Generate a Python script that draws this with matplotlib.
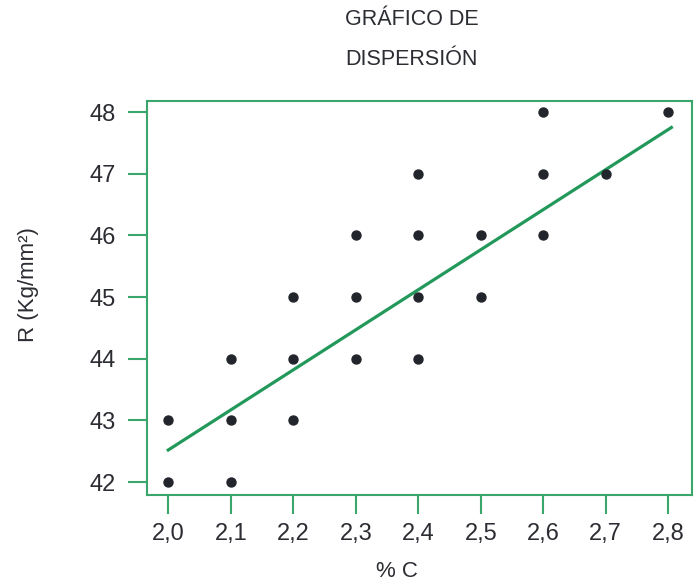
import numpy as np
import matplotlib.pyplot as plt

plt.rcParams['font.family'] = ['Liberation Sans', 'DejaVu Sans']

# Contenido de carbono (%) y resistencia (Kg/mm²) de cada muestra
carbono = [2.0, 2.0,
           2.1, 2.1, 2.1,
           2.2, 2.2, 2.2,
           2.3, 2.3, 2.3,
           2.4, 2.4, 2.4, 2.4,
           2.5, 2.5,
           2.6, 2.6, 2.6,
           2.7,
           2.8]
resistencia = [42, 43,
               42, 43, 44,
               43, 44, 45,
               44, 45, 46,
               44, 45, 46, 47,
               45, 46,
               46, 47, 48,
               47,
               48]

# Recta de tendencia
recta_x = [2.0, 2.805]
recta_y = [42.52, 47.75]

xticks = [2.0, 2.1, 2.2, 2.3, 2.4, 2.5, 2.6, 2.7, 2.8]
xtick_labels = ['2,0', '2,1', '2,2', '2,3', '2,4', '2,5', '2,6', '2,7', '2,8']
yticks = [42, 43, 44, 45, 46, 47, 48]

verde_marco = '#3aa66c'
verde_recta = '#22995a'
texto = '#2b2d33'

fig = plt.figure(figsize=(6.96, 5.85), dpi=100)
ax = fig.add_axes([0.2112, 0.1538, 0.7831, 0.6736])

ax.scatter(carbono, resistencia, s=42, color='#22252c', zorder=3)
ax.plot(recta_x, recta_y, color=verde_recta, linewidth=2.3, zorder=2)

ax.set_xlim(1.966, 2.838)
ax.set_ylim(41.79, 48.18)
ax.set_xticks(xticks)
ax.set_xticklabels(xtick_labels)
ax.set_yticks(yticks)

for lado in ax.spines.values():
    lado.set_color(verde_marco)
    lado.set_linewidth(1.5)

ax.tick_params(axis='both', direction='out', length=13.5, width=1.5,
               color=verde_marco, labelcolor=texto, labelsize=17)
ax.tick_params(axis='y', pad=9)
ax.tick_params(axis='x', pad=7)

ax.set_xlabel('% C', fontsize=16, color=texto)
ax.xaxis.set_label_coords(0.459, -0.168)
ax.set_ylabel('R (Kg/mm²)', fontsize=16, color=texto)
ax.yaxis.set_label_coords(-0.198, 0.533)
fig.text(0.591, 0.967, 'GRÁFICO DE', ha='center', va='center',
         fontsize=15.5, color=texto)
fig.text(0.591, 0.898, 'DISPERSIÓN', ha='center', va='center',
         fontsize=15.5, color=texto)

fig.savefig('out.png', dpi=100)
